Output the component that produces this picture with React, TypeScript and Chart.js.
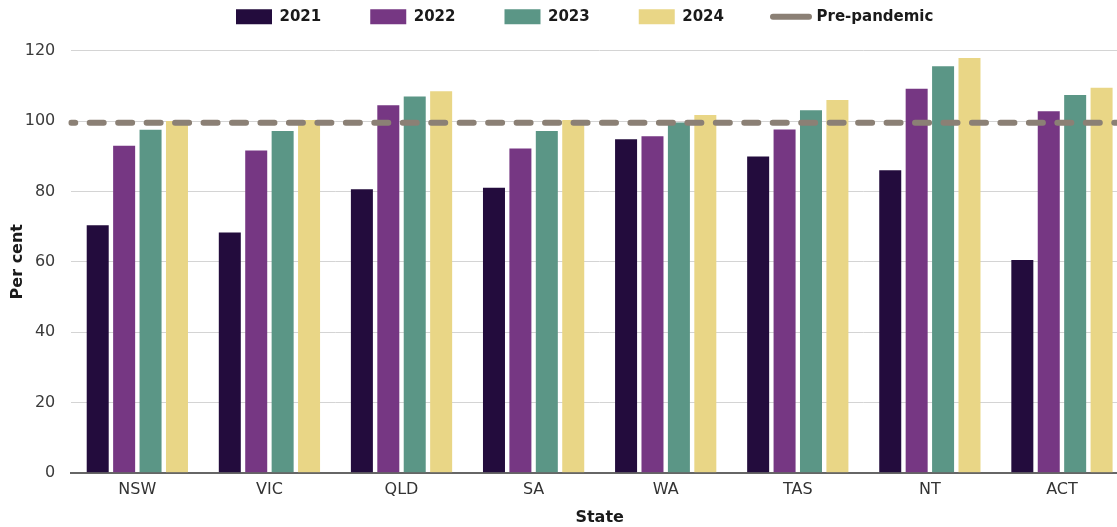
import React, { useEffect, useRef } from 'react';
import { Chart, registerables } from 'chart.js';

Chart.register(...registerables);

const states = ['NSW', 'VIC', 'QLD', 'SA', 'WA', 'TAS', 'NT', 'ACT'];
const years = ['2021', '2022', '2023', '2024'];
const values2021 = [70.4, 68.3, 80.6, 81.0, 94.8, 89.9, 86.0, 60.5];
const values2022 = [93.0, 91.6, 104.5, 92.2, 95.7, 97.6, 109.2, 102.8];
const values2023 = [97.5, 97.2, 107.0, 97.2, 99.6, 103.1, 115.6, 107.4];
const values2024 = [100.0, 100.3, 108.5, 100.3, 101.7, 106.0, 117.9, 109.5];
const prePandemicLabel = 'Pre-pandemic';
const prePandemicValue = 99.5;
// the reference line spans the whole plot: from the left edge of the first
// category to the right edge of the last one (category index units)
const prePandemicSpan = [-0.5, states.length - 0.5];
const yTicks = [0, 20, 40, 60, 80, 100, 120];

const barColors = ['#230c3d', '#763783', '#5b9686', '#e9d686'];
const lineColor = '#8b8075';

const legendShift = {
  id: 'legendShift',
  afterLayout(chart: any) {
    const lg = chart.legend;
    if (!lg) return;
    const pad = lg.options.labels.padding;
    const dx = 236 - (lg.left + pad);
    const dy = 16.7 - (lg.top + pad + 7.5);
    lg.left += dx;
    lg.right += dx;
    lg.top += dy;
    lg.bottom += dy;
  },
};

export default function App() {
  const ref = useRef<HTMLCanvasElement>(null);

  useEffect(() => {
    document.body.style.margin = '0';
    Chart.defaults.font.family = "'DejaVu Sans', sans-serif";
    const seriesValues = [values2021, values2022, values2023, values2024];
    const chart = new Chart(ref.current as HTMLCanvasElement, {
      type: 'bar',
      data: {
        labels: states,
        datasets: [
          ...years.map((y, i) => ({
            type: 'bar' as const,
            label: y,
            data: seriesValues[i],
            backgroundColor: barColors[i],
            borderWidth: 0,
            categoryPercentage: 0.8,
            barPercentage: 0.833,
            xAxisID: 'x',
          })),
          {
            type: 'line' as const,
            label: prePandemicLabel,
            parsing: false,
            data: prePandemicSpan.map((x) => ({ x, y: prePandemicValue })),
            xAxisID: 'x',
            borderColor: lineColor,
            backgroundColor: lineColor,
            borderWidth: 6,
            borderDash: [14, 14.46],
            borderDashOffset: 10.06,
            borderCapStyle: 'round',
            pointRadius: 0,
            fill: false,
            order: -1,
          } as any,
        ],
      },
      options: {
        responsive: false,
        animation: false,
        devicePixelRatio: 1,
        layout: { padding: { top: -23.3, left: 0, right: 0, bottom: 0 } },
        plugins: {
          tooltip: { enabled: false },
          legend: {
            position: 'top',
            align: 'start',
            labels: {
              usePointStyle: true,
              pointStyleWidth: 36,
              boxWidth: 36,
              boxHeight: 15,
              padding: 49,
              color: '#1a1a1a',
              font: { size: 15, weight: 'bold', family: "'DejaVu Sans', sans-serif" },
              sort: (a: any, b: any) => a.datasetIndex - b.datasetIndex,
              generateLabels: (c: any) => {
                const items = Chart.defaults.plugins.legend.labels.generateLabels(c);
                return items.map((it: any) => {
                  if (it.datasetIndex === 4) {
                    return {
                      ...it,
                      pointStyle: 'line',
                      lineWidth: 6,
                      lineCap: 'round',
                      lineDash: [],
                      strokeStyle: lineColor,
                      fillStyle: lineColor,
                    };
                  }
                  return { ...it, pointStyle: 'rect', lineWidth: 0 };
                });
              },
            },
          },
        },
        scales: {
          x: {
            type: 'category',
            position: 'bottom',
            offset: true,
            grid: { display: false, drawTicks: false },
            border: { display: true, color: '#666666', width: 2 },
            ticks: {
              color: '#333333',
              padding: 8,
              font: { size: 16 },
              maxRotation: 0,
            },
            title: {
              display: true,
              text: 'State',
              color: '#1a1a1a',
              font: { size: 16, weight: 'bold' },
              padding: { top: 0, bottom: 0 },
            },
            afterFit: (s: any) => {
              s.height = 54.3;
            },
          },
          y: {
            type: 'linear',
            min: 0,
            max: 120,
            grid: {
              drawTicks: false,
              color: (ctx: any) => (ctx.tick && ctx.tick.value === 0 ? 'rgba(0,0,0,0)' : '#d4d4d4'),
              lineWidth: 1,
            },
            border: { display: false },
            afterBuildTicks: (s: any) => {
              s.ticks = yTicks.map((v) => ({ value: v }));
            },
            ticks: {
              color: '#3a3a3a',
              padding: 16,
              font: { size: 16 },
            },
            title: {
              display: true,
              text: 'Per cent',
              color: '#1a1a1a',
              font: { size: 16, weight: 'bold' },
              padding: { top: 8, bottom: 0 },
            },
            afterFit: (s: any) => {
              s.width = 71.3;
            },
          },
        },
      } as any,
      plugins: [legendShift],
    });
    return () => chart.destroy();
  }, []);

  return (
    <div style={{ width: 1117, height: 527, overflow: 'hidden', position: 'relative', background: '#ffffff' }}>
      <canvas ref={ref} width={1128} height={527} style={{ display: 'block', width: 1128, height: 527 }} />
    </div>
  );
}
